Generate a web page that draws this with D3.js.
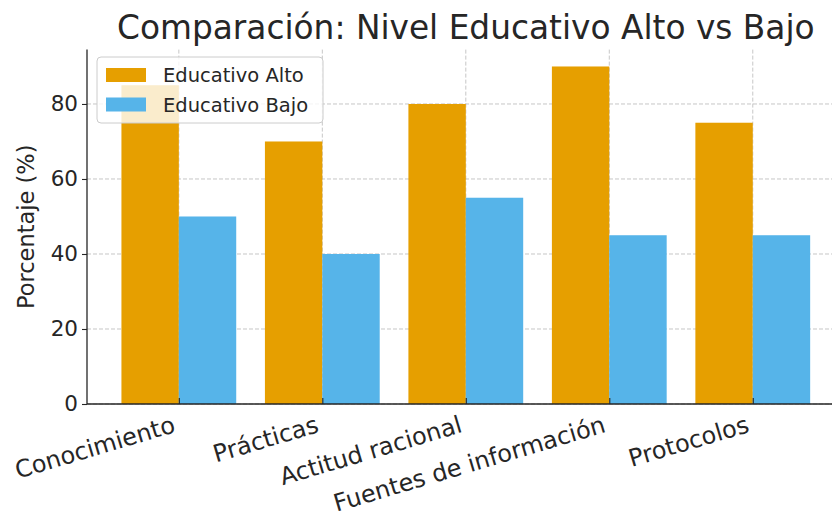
<!DOCTYPE html>
<html>
<head>
<meta charset="utf-8">
<script src="https://cdn.jsdelivr.net/npm/d3@7"></script>
<style>
  body { margin: 0; background: #fff; }
  text { font-family: "DejaVu Sans", sans-serif; fill: #262626; }
</style>
</head>
<body>
<div id="chart"></div>
<script>
// data
var categories = ['Conocimiento', 'Prácticas', 'Actitud racional', 'Fuentes de información', 'Protocolos'];
var altoValues = [85, 70, 80, 90, 75];
var bajoValues = [50, 40, 55, 45, 45];
var seriesNames = ['Educativo Alto', 'Educativo Bajo'];
var yTicks = [0, 20, 40, 60, 80];

var colors = ['#E69F00', '#56B4E9'];

//canvas size
var width = 832;
var height = 521;

//plot area
var plotLeft = 87;
var plotRight = 844.6;
var plotTop = 49.6;
var plotBottom = 404;

var svg = d3.select('#chart')
    .append('svg')
    .attr('width', width)
    .attr('height', height);

//scales, like matplotlib: bars at i-0.4 .. i+0.4 plus 5% margins
var xScale = d3.scaleLinear()
    .domain([-0.64, categories.length - 1 + 0.64])
    .range([plotLeft, plotRight]);

var yScale = d3.scaleLinear()
    .domain([0, 94.5])
    .range([plotBottom, plotTop]);

var barW = 0.4;

//grid lines (behind the bars)
var grid = svg.append('g').attr('class', 'grid');

grid.selectAll('line.h')
    .data(yTicks)
    .enter()
    .append('line')
    .attr('x1', plotLeft)
    .attr('x2', plotRight)
    .attr('y1', function(d) { return yScale(d); })
    .attr('y2', function(d) { return yScale(d); })
    .attr('stroke', '#b0b0b0')
    .attr('stroke-width', 1)
    .attr('stroke-dasharray', '4,2')
    .attr('opacity', 0.7);

grid.selectAll('line.v')
    .data(categories)
    .enter()
    .append('line')
    .attr('x1', function(d, i) { return xScale(i); })
    .attr('x2', function(d, i) { return xScale(i); })
    .attr('y1', plotTop)
    .attr('y2', plotBottom)
    .attr('stroke', '#b0b0b0')
    .attr('stroke-width', 1)
    .attr('stroke-dasharray', '4,2')
    .attr('opacity', 0.7);

//bars
var series = [altoValues, bajoValues];
series.forEach(function(vals, s) {
    svg.append('g')
        .selectAll('rect')
        .data(vals)
        .enter()
        .append('rect')
        .attr('x', function(d, i) { return xScale(i - barW + s * barW); })
        .attr('width', function(d, i) { return xScale(i + barW) - xScale(i); })
        .attr('y', function(d) { return yScale(d); })
        .attr('height', function(d) { return yScale(0) - yScale(d); })
        .attr('fill', colors[s]);
});

//y axis
var yAxis = d3.axisLeft(yScale)
    .tickValues(yTicks)
    .tickSize(5)
    .tickPadding(4);

var yG = svg.append('g')
    .attr('transform', 'translate(' + plotLeft + ',0)')
    .call(yAxis);
yG.select('.domain')
    .attr('d', 'M0,' + plotTop + 'V' + plotBottom)
    .attr('stroke', '#262626')
    .attr('stroke-width', 1.3);
yG.selectAll('.tick line').attr('stroke', '#262626').attr('stroke-width', 1.1);
yG.selectAll('.tick text')
    .style('font-size', '21.5px')
    .style('font-family', '"DejaVu Sans", sans-serif')
    .attr('fill', '#262626');

//x axis (ticks point inward)
var xAxis = d3.axisBottom(xScale)
    .tickValues(d3.range(categories.length))
    .tickSize(-6)
    .tickFormat(function(d) { return categories[d]; });

var xG = svg.append('g')
    .attr('transform', 'translate(0,' + plotBottom + ')')
    .call(xAxis);
xG.select('.domain')
    .attr('d', 'M' + plotLeft + ',0H' + plotRight)
    .attr('stroke', '#262626')
    .attr('stroke-width', 1.3);
xG.selectAll('.tick line').attr('stroke', '#262626').attr('stroke-width', 1.1);
xG.selectAll('.tick text')
    .style('font-size', '24px')
    .style('font-family', '"DejaVu Sans", sans-serif')
    .attr('fill', '#262626')
    .attr('text-anchor', 'end')
    .attr('y', 0)
    .attr('dy', '0.9em')
    .attr('transform', 'translate(-9,7) rotate(-16.5)');

//y label
svg.append('text')
    .attr('transform', 'translate(34,' + ((plotTop + plotBottom) / 2) + ') rotate(-90)')
    .attr('text-anchor', 'middle')
    .style('font-size', '22.5px')
    .text('Porcentaje (%)');

//title
svg.append('text')
    .attr('x', (plotLeft + plotRight) / 2)
    .attr('y', 39)
    .attr('text-anchor', 'middle')
    .style('font-size', '32.8px')
    .text('Comparación: Nivel Educativo Alto vs Bajo');

//legend
var legend = svg.append('g').attr('transform', 'translate(97,57)');
legend.append('rect')
    .attr('width', 226)
    .attr('height', 66)
    .attr('rx', 4)
    .attr('fill', 'white')
    .attr('fill-opacity', 0.8)
    .attr('stroke', '#cccccc')
    .attr('stroke-width', 1);

seriesNames.forEach(function(name, i) {
    legend.append('rect')
        .attr('x', 9)
        .attr('y', 11 + i * 29.5)
        .attr('width', 40)
        .attr('height', 14)
        .attr('fill', colors[i]);
    legend.append('text')
        .attr('x', 66)
        .attr('y', 25 + i * 29.5)
        .style('font-size', '19.5px')
        .text(name);
});
</script>
</body>
</html>
